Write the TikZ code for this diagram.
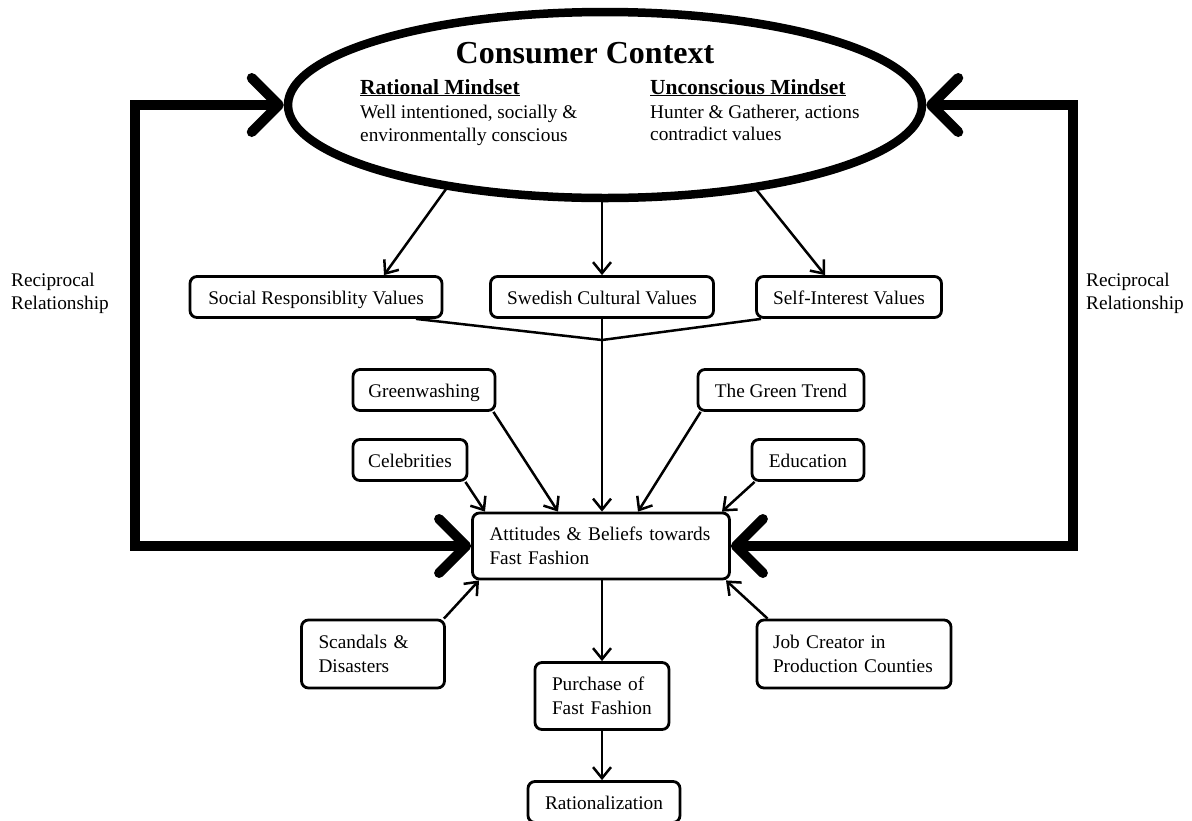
\documentclass[tikz,border=0pt]{standalone}
\usepackage{fontspec}
\setmainfont{Liberation Serif}
\usetikzlibrary{arrows.meta,shapes.geometric,calc}
\newcommand{\bodyfont}{\fontsize{19.3pt}{23.5pt}\selectfont}
\newcommand{\headfont}{\fontsize{21.5pt}{24pt}\selectfont\bfseries}
\newcommand{\titlefont}{\fontsize{32pt}{36pt}\selectfont\bfseries}
\begin{document}
\begin{tikzpicture}[x=1pt,y=-1pt,
  bx/.style={draw,line width=2.8pt,rounded corners=7pt,inner sep=0pt,minimum height=41pt,font=\bodyfont},
  onebx/.style={bx,text height=14pt,text depth=0pt},
  lbl/.style={inner sep=0pt,anchor=base west,font=\bodyfont},
  thinarrow/.style={line width=2.5pt,-{Straight Barb[length=11pt,width=18pt]}},
  plainline/.style={line width=2.5pt},
  bigarrow/.style={line width=10pt,line join=miter,{Straight Barb[length=27pt,width=54pt,round]}-{Straight Barb[length=27pt,width=54pt,round]}}]
\useasboundingbox (0,0) rectangle (1192,820);
\clip (0,0) rectangle (1192,820);

% value boxes
\node[onebx,minimum width=252pt] (sr) at (316,297) {Social Responsiblity Values};
\node[onebx,minimum width=223pt] (sw) at (602,297) {Swedish Cultural Values};
\node[onebx,minimum width=185pt] (si) at (849,297) {Self-Interest Values};

% influence boxes
\node[onebx,minimum width=142pt] (gw) at (424,390) {Greenwashing};
\node[onebx,minimum width=166pt] (gt) at (781,390) {The Green Trend};
\node[onebx,minimum width=114pt] (cb) at (410,460) {Celebrities};
\node[onebx,minimum width=112pt] (ed) at (808,460) {Education};

\node[bx,minimum width=257pt,minimum height=66pt,text width=223pt,align=left] (att) at (601,546)
  {Attitudes \& Beliefs towards\\Fast Fashion};
\node[bx,minimum width=143pt,minimum height=68pt,text width=109pt,align=left] (sc) at (373,654)
  {Scandals \&\\Disasters};
\node[bx,minimum width=194pt,minimum height=68pt,text width=162pt,align=left] (jc) at (854,654)
  {Job Creator in\\Production Counties};
\node[bx,minimum width=134pt,minimum height=67pt,text width=100pt,align=left] (pf) at (602,696)
  {Purchase of\\Fast Fashion};
\node[onebx,minimum width=152pt] (ra) at (604,802) {Rationalization};

% arrows from the ellipse (start inside, covered by the filled ellipse)
\coordinate (e1) at (454,178);
\coordinate (e2) at (602,180);
\coordinate (e3) at (747,178);
\draw[thinarrow] (e1) -- ([xshift=68pt]sr.north);
\draw[thinarrow] (e2) -- (sw.north);
\draw[thinarrow] (e3) -- ([xshift=-24pt]si.north);

% ellipse
\node[ellipse,draw,fill=white,line width=8.5pt,minimum width=634pt,minimum height=186pt,inner sep=0pt] (ell) at (605,105) {};
\node[inner sep=0pt,anchor=base,font=\titlefont] (title) at (585,63) {Consumer Context};
\node[inner sep=0pt,anchor=base west,font=\headfont] (rm) at (360,94) {\underline{Rational Mindset}};
\node[lbl] (rm1) at (360,118) {Well intentioned, socially \&};
\node[lbl] (rm2) at (360,141) {environmentally conscious};
\node[inner sep=0pt,anchor=base west,font=\headfont] (um) at (650,94) {\underline{Unconscious Mindset}};
\node[lbl] (um1) at (650,118) {Hunter \& Gatherer, actions};
\node[lbl] (um2) at (650,140) {contradict values};

% reciprocal labels
\node[lbl] (rl1) at (11,286) {Reciprocal};
\node[lbl] (rl2) at (11,309) {Relationship};
\node[lbl] (rr1) at (1086,286) {Reciprocal};
\node[lbl] (rr2) at (1086,309) {Relationship};

% merge of values
\coordinate (J) at (602,340);
\draw[plainline] ([xshift=100pt]sr.south) -- (J);
\draw[plainline] ([xshift=-88pt]si.south) -- (J);
\draw[plainline] (sw.south) -- (J);
\draw[thinarrow] (J) -- ([xshift=1pt]att.north);

% influences
\draw[thinarrow] ([xshift=-3pt]gw.south east) -- ([xshift=-43pt]att.north);
\draw[thinarrow] ([xshift=4pt]gt.south west) -- ([xshift=37pt]att.north);
\draw[thinarrow] ([xshift=-3pt]cb.south east) -- ([xshift=-116pt]att.north);
\draw[thinarrow] ([xshift=4pt]ed.south west) -- ([xshift=121pt]att.north);
\draw[thinarrow] ([xshift=-2pt]sc.north east) -- ([xshift=-122pt]att.south);
\draw[thinarrow] ([xshift=12pt]jc.north west) -- ([xshift=125pt]att.south);

% chain
\draw[thinarrow] ([xshift=1pt]att.south) -- (pf.north);
\draw[thinarrow] (pf.south) -- ([xshift=-2pt]ra.north);

% reciprocal loops
\coordinate (lx) at (135,546);
\coordinate (rx) at (1073,546);
\draw[bigarrow] (ell.west) -| (lx) |- (att.west);
\draw[bigarrow] (ell.east) -| (rx) |- (att.east);
\end{tikzpicture}
\end{document}
